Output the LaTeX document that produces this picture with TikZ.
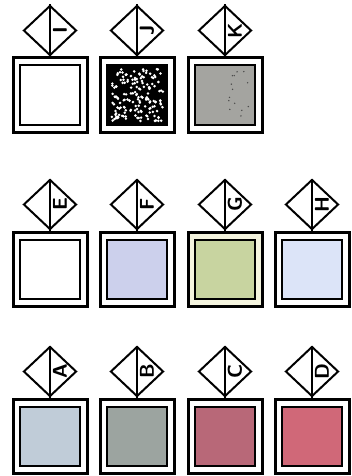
\documentclass[tikz,border=0pt]{standalone}
\usepackage{tikz}
\usetikzlibrary{shapes.geometric, positioning}

\definecolor{swatchK}{RGB}{164,164,160}
\definecolor{swatchF}{RGB}{204,208,236}
\definecolor{swatchG}{RGB}{200,212,160}
\definecolor{ringG}{RGB}{244,244,222}
\definecolor{swatchH}{RGB}{220,228,248}
\definecolor{swatchA}{RGB}{192,204,216}
\definecolor{swatchB}{RGB}{156,164,160}
\definecolor{swatchC}{RGB}{184,104,120}
\definecolor{swatchD}{RGB}{208,104,120}

\begin{document}
\begin{tikzpicture}[x=0.5pt, y=-0.5pt,
    frame/.style={draw, line width=1.5pt, minimum width=37pt, minimum height=37pt, inner sep=0pt},
    swatch/.style={draw, line width=1pt, minimum width=30pt, minimum height=29.5pt, inner sep=0pt},
    tag/.style={draw, diamond, line width=1pt, minimum width=26.5pt, minimum height=25pt, inner sep=0pt},
    letter/.style={font=\sffamily\bfseries\fontsize{10}{10}\selectfont, rotate=90, inner sep=0pt}]
  \useasboundingbox (0,0) rectangle (352,476);

  % one swatch: frame, colour sample, diamond tag with its letter
  \foreach \name/\cx/\cy/\col/\bg in {
      I/50/95/white/white, J/137/95/black/white, K/225/95/swatchK/white,
      E/50/269/white/white, F/137/269/swatchF/white, G/225/269/swatchG/ringG, H/312/269/swatchH/white,
      A/50/436/swatchA/white, B/137/436/swatchB/white, C/225/436/swatchC/white, D/312/436/swatchD/white} {
    \node[frame, fill=\bg] (box\name) at (\cx,\cy) {};
    \node[swatch, fill=\col] (sw\name) at (box\name.center) {};
    \node[tag, above=0pt of box\name] (tag\name) {};
    \draw[line width=1pt] (tag\name.north) -- (tag\name.south);
    \node[letter] (lbl\name) at ([xshift=5pt]tag\name.center) {\name};
  }

  % speckles on the dark sample
  \pgfmathsetseed{7}
  \foreach \k in {1,...,160} {
    \fill[white] ([shift={(rand*26,rand*26)}]swJ.center) circle (0.7pt);
  }
  \foreach \k in {1,...,14} {
    \fill[black!70] ([shift={(12+rand*12,rand*24)}]swK.center) circle (0.4pt);
  }
\end{tikzpicture}
\end{document}
